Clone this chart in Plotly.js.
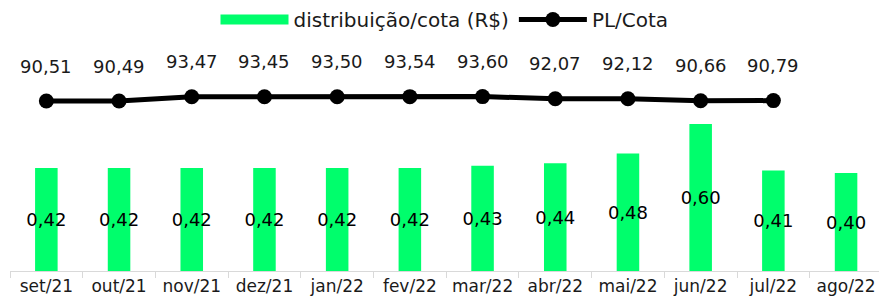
<!DOCTYPE html>
<html>
<head>
<meta charset="utf-8">
<script src="https://cdn.plot.ly/plotly-3.0.1.min.js"></script>
<style>html,body{margin:0;padding:0;background:#fff;}#chart{width:879px;height:305px;}</style>
</head>
<body>
<div id="chart"></div>
<script>
const months = ['set/21','out/21','nov/21','dez/21','jan/22','fev/22','mar/22','abr/22','mai/22','jun/22','jul/22','ago/22'];
const distribuicao = [0.42,0.42,0.42,0.42,0.42,0.42,0.43,0.44,0.48,0.60,0.41,0.40];
const plMonths = ['set/21','out/21','nov/21','dez/21','jan/22','fev/22','mar/22','abr/22','mai/22','jun/22','jul/22'];
const plCota = [90.51,90.49,93.47,93.45,93.50,93.54,93.60,92.07,92.12,90.66,90.79];

const fmt = v => v.toFixed(2).replace('.', ',');
const FONT = 'DejaVu Sans, sans-serif';

const traces = [
  {
    type: 'bar', x: months, y: distribuicao, name: 'distribuição/cota (R$)',
    marker: {color: '#00fe6c'},
    text: distribuicao.map(fmt), textposition: 'inside', insidetextanchor: 'middle',
    constraintext: 'none', textangle: 0,
    insidetextfont: {family: FONT, size: 18, color: '#000'},
    showlegend: false, hoverinfo: 'skip'
  },
  {
    type: 'scatter', mode: 'lines', x: [null], y: [null], name: 'distribuição/cota (R$)',
    line: {color: '#00fe6c', width: 13}, showlegend: true, hoverinfo: 'skip'
  },
  {
    type: 'scatter', mode: 'lines+markers', x: plMonths, y: plCota, yaxis: 'y2', name: 'PL/Cota',
    line: {color: '#000', width: 5}, marker: {color: '#000', size: 15},
    cliponaxis: false, hoverinfo: 'skip'
  }
];

const annotations = plMonths.map((m, i) => ({
  x: m, y: plCota[i], xref: 'x', yref: 'y2', text: fmt(plCota[i]),
  showarrow: false, yshift: 35, yanchor: 'middle',
  font: {family: FONT, size: 18, color: '#1a1a1a'}
}));

const layout = {
  width: 879, height: 305,
  margin: {l: 10, r: 0, t: 75, b: 34},
  paper_bgcolor: '#fff', plot_bgcolor: '#fff',
  font: {family: FONT, color: '#1a1a1a'},
  bargap: 0.69,
  showlegend: true,
  legend: {orientation: 'h', x: 0.5, xanchor: 'center', y: 1, yref: 'container', yanchor: 'top',
           font: {family: FONT, size: 20, color: '#1a1a1a'}, itemwidth: 68, traceorder: 'normal'},
  xaxis: {
    type: 'category', range: [-0.5, 11.453], showgrid: false, zeroline: false,
    showline: true, linecolor: '#d9d9d9', linewidth: 1,
    ticks: 'outside', tickson: 'boundaries', ticklen: 6, tickcolor: '#d9d9d9',
    tickfont: {family: FONT, size: 17, color: '#1a1a1a'}, fixedrange: true
  },
  yaxis: {range: [0, 0.80], visible: false, showgrid: false, zeroline: false, fixedrange: true},
  yaxis2: {range: [-28.4, 108.7], overlaying: 'y', visible: false, showgrid: false, zeroline: false, fixedrange: true},
  annotations: annotations
};

Plotly.newPlot('chart', traces, layout, {staticPlot: true, displayModeBar: false});
</script>
</body>
</html>
